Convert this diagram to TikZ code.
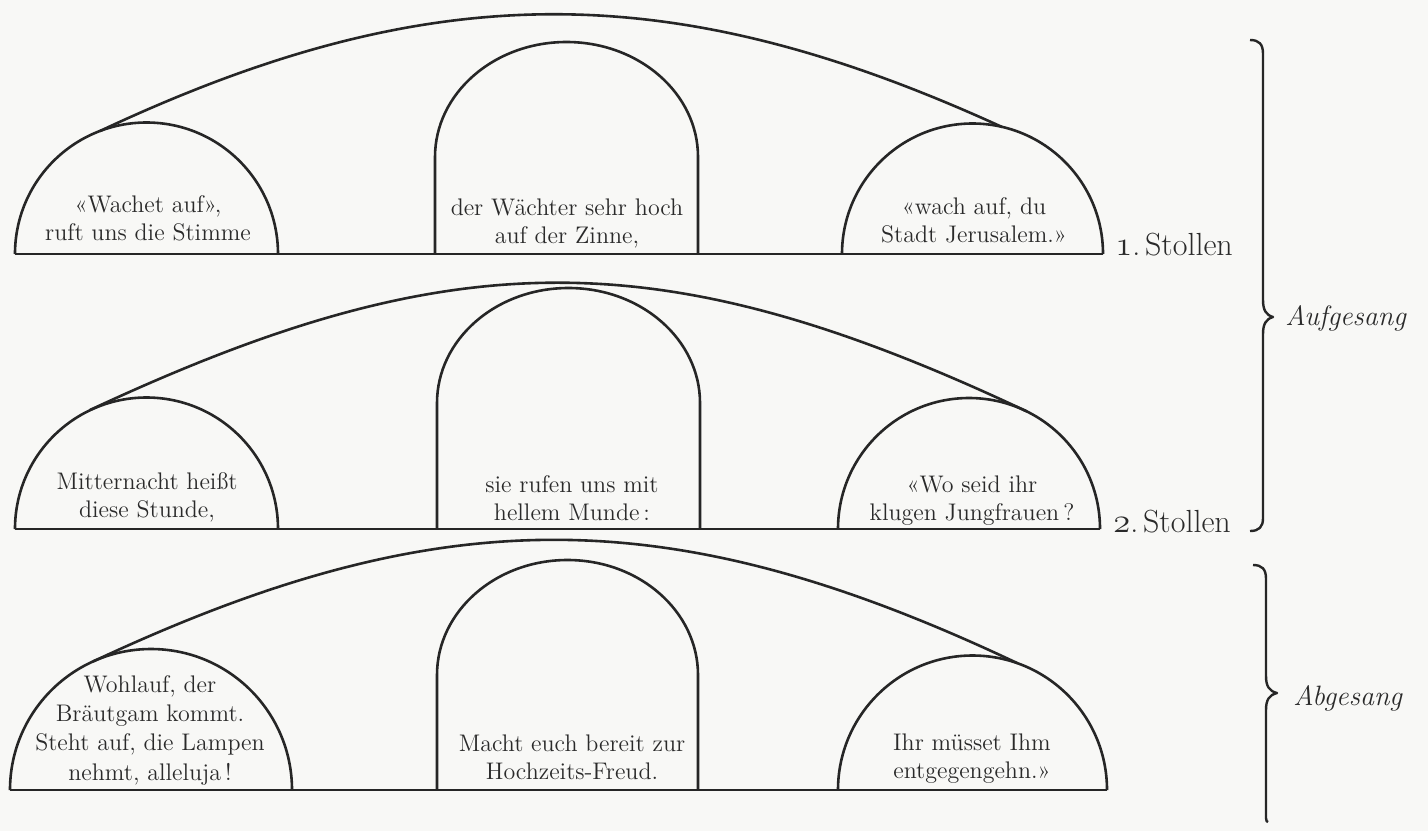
\documentclass[tikz,border=0pt]{standalone}
\usepackage{fontspec}
\definecolor{ink}{HTML}{262626}
\definecolor{txt}{HTML}{2A2A2A}
\definecolor{paper}{HTML}{F8F8F6}
\newcommand\osnum[1]{{\fontencoding{OML}\fontfamily{cmm}\fontseries{m}\fontshape{it}\selectfont #1}}
\begin{document}
\begin{tikzpicture}[x=0.5pt,y=-0.5pt,
  ln/.style={line width=1.3pt, draw=ink, line join=round},
  verse/.style={font=\fontsize{12}{14}\selectfont, text=txt, align=center, inner sep=0pt, anchor=base},
  stollen/.style={font=\fontsize{16}{18}\selectfont, text=txt, inner sep=0pt, anchor=base west},
  part/.style={font=\fontsize{14}{16}\selectfont\itshape, text=txt, inner sep=0pt, anchor=base west}]
\fill[paper] (0,0) rectangle (1428,831);
\useasboundingbox (0,0) rectangle (1428,831);

% ---------- Row 1 ----------
\draw[ln] (15,254) -- (1103,254);
\draw[ln] (15,254) arc[start angle=180,end angle=360,radius=131.5];
\draw[ln] (842,254) arc[start angle=180,end angle=360,radius=130.5];
\draw[ln] (435,254) -- (435,157) arc[start angle=180,end angle=360,x radius=131.5,y radius=115] -- (698,254);
\draw[ln] (100,131) .. controls (430,-24) and (672,-24) .. (1002,127);
\node[verse] (t11) at (148,240) {«Wachet auf»,\\ruft uns die Stimme};
\node[verse] (t12) at (567,243) {der Wächter sehr hoch\\auf der Zinne,};
\node[verse] (t13) at (974,242) {«wach auf, du\\Stadt Jerusalem.»};
\node[stollen] (s1) at (1115,255) {\osnum{1}.\hspace{0.15em}Stollen};

% ---------- Row 2 ----------
\draw[ln] (15,529) -- (1100,529);
\draw[ln] (15,529) arc[start angle=180,end angle=360,radius=131.5];
\draw[ln] (838,529) arc[start angle=180,end angle=360,radius=131];
\draw[ln] (437,529) -- (437,403) arc[start angle=180,end angle=360,x radius=131.5,y radius=115] -- (700,529);
\draw[ln] (90,410) .. controls (454,240) and (663,240) .. (1027,411.5);
\node[verse] (t21) at (147,517) {Mitternacht heißt\\diese Stunde,};
\node[verse] (t22) at (572,520) {sie rufen uns mit\\hellem Munde\,:};
\node[verse] (t23) at (972,520) {«Wo seid ihr\\klugen Jungfrauen\,?};
\node[stollen] (s2) at (1113,532) {\osnum{2}.\hspace{0.15em}Stollen};

% ---------- Row 3 ----------
\draw[ln] (10,790) -- (1107,790);
\draw[ln] (10,790) arc[start angle=180,end angle=360,radius=141];
\draw[ln] (838,790) arc[start angle=180,end angle=360,radius=134.5];
\draw[ln] (437,790) -- (437,675) arc[start angle=180,end angle=360,x radius=130.5,y radius=115] -- (698,790);
\draw[ln] (93,661.5) .. controls (440,499) and (670,499) .. (1017,663);
\node[verse,font=\fontsize{12}{14.6}\selectfont] (t31) at (150,780) {Wohlauf, der\\Bräutgam kommt.\\Steht auf, die Lampen\\nehmt, alleluja\,!};
\node[verse] (t32) at (572,779) {Macht euch bereit zur\\Hochzeits-Freud.};
\node[verse] (t33) at (972,778) {Ihr müsset Ihm\\entgegengehn.»};

% ---------- Braces ----------
\draw[ln,line width=1.2pt] (1250,40) .. controls (1259,40) and (1263,44) .. (1263,54) -- (1263,300)
  .. controls (1263,310) and (1266,315) .. (1273,317)
  .. controls (1266,319) and (1263,324) .. (1263,334) -- (1263,518)
  .. controls (1263,527) and (1259,531) .. (1250,531);
\node[part] (auf) at (1285,325) {Aufgesang};

\draw[ln,line width=1.2pt] (1253,565) .. controls (1262,565) and (1266,569) .. (1266,579) -- (1266,676)
  .. controls (1266,686) and (1269,691) .. (1277,693)
  .. controls (1269,695) and (1266,700) .. (1266,710) -- (1266,818)
  .. controls (1266,821) and (1267,822) .. (1268,822);
\node[part] (ab) at (1293,705) {Abgesang};
\end{tikzpicture}
\end{document}
